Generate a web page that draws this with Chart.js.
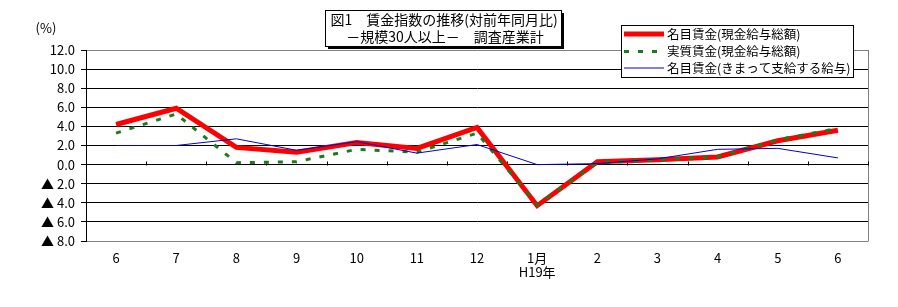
<!DOCTYPE html>
<html><head><meta charset="utf-8">
<script src="https://cdn.jsdelivr.net/npm/chart.js@4/dist/chart.umd.min.js"></script>
<style>html,body{margin:0;padding:0;background:#fff;}canvas{display:block;}</style>
</head><body>
<canvas id="c" width="898" height="307"></canvas>
<script>
const categories = ['6','7','8','9','10','11','12',['1月','H19年'],'2','3','4','5','6'];
const nominalTotal   = [4.2, 5.9, 1.8, 1.3, 2.3, 1.7, 3.9, -4.3, 0.3, 0.5, 0.8, 2.5, 3.6];
const realTotal      = [3.3, 5.3, 0.2, 0.3, 1.6, 1.3, 3.3, -4.2, 0.2, 0.5, 0.8, 2.6, 3.8];
const nominalRegular = [2.0, 2.0, 2.7, 1.5, 2.4, 1.2, 2.1, 0.0, 0.1, 0.6, 1.6, 1.7, 0.7];
const seriesNames = ['名目賃金(現金給与総額)','実質賃金(現金給与総額)','名目賃金(きまって支給する給与)'];
const titleLines = ['図1　賃金指数の推移(対前年同月比)','－規模30人以上－　調査産業計'];
const unitLabel = '(%)';
const yMin = -8, yMax = 12, yStep = 2;

const FONT = '"Noto Sans CJK JP", "Noto Sans", sans-serif';

const decor = {
  id: 'decor',
  beforeDatasetsDraw(chart) {
    const {ctx, chartArea: a, scales: {x, y}} = chart;
    ctx.save();
    ctx.strokeStyle = '#808080'; ctx.lineWidth = 1;
    ctx.beginPath(); ctx.moveTo(Math.round(a.right) + 0.5, a.top); ctx.lineTo(Math.round(a.right) + 0.5, a.bottom + 0.5); ctx.stroke();
    const y0 = Math.round(y.getPixelForValue(0)) + 0.5;
    ctx.strokeStyle = '#000';
    for (let i = 1; i <= categories.length; i++) {
      const px = i < categories.length
        ? (x.getPixelForValue(i - 1) + x.getPixelForValue(i)) / 2
        : a.right;
      const xx = Math.round(px) + 0.5;
      ctx.beginPath(); ctx.moveTo(xx, y0); ctx.lineTo(xx, y0 - 4); ctx.stroke();
    }
    ctx.restore();
  },
  afterDraw(chart) {
    const {ctx} = chart;
    ctx.save();
    ctx.fillStyle = '#000';
    ctx.font = '13px ' + FONT;
    ctx.textAlign = 'center'; ctx.textBaseline = 'middle';
    ctx.fillText(unitLabel, 46, 28);
    const bx = 325, by = 10, bw = 236, bh = 36;
    ctx.fillStyle = '#000';
    ctx.fillRect(bx + 3, by + 3, bw, bh);
    ctx.fillStyle = '#fff';
    ctx.fillRect(bx, by, bw, bh);
    ctx.strokeStyle = '#000'; ctx.lineWidth = 1;
    ctx.strokeRect(bx + 0.5, by + 0.5, bw, bh);
    ctx.fillStyle = '#000';
    ctx.font = '14px ' + FONT;
    ctx.fillText(titleLines[0], bx + bw / 2 + 1, by + 10);
    ctx.fillText(titleLines[1], bx + bw / 2 + 2, by + 27);
    const lx = 621, ly = 25, lw = 232, lh = 52;
    ctx.fillStyle = '#fff';
    ctx.fillRect(lx, ly, lw, lh);
    ctx.strokeStyle = '#000';
    ctx.strokeRect(lx + 0.5, ly + 0.5, lw, lh);
    const rows = [34, 51.5, 68];
    chart.data.datasets.forEach((ds, i) => {
      const yy = rows[i];
      ctx.save();
      ctx.strokeStyle = ds.borderColor;
      ctx.lineWidth = ds.borderWidth;
      ctx.setLineDash(ds.borderDash || []);
      ctx.beginPath(); ctx.moveTo(624, yy); ctx.lineTo(664, yy); ctx.stroke();
      ctx.restore();
      ctx.fillStyle = '#000';
      ctx.font = '12.5px ' + FONT;
      ctx.textAlign = 'left'; ctx.textBaseline = 'middle';
      ctx.fillText(ds.label, 667, yy);
    });
    ctx.restore();
  }
};

new Chart(document.getElementById('c'), {
  type: 'line',
  data: {
    labels: categories,
    datasets: [
      {label: seriesNames[0], data: nominalTotal, borderColor: '#ff0000', borderWidth: 5, order: 3},
      {label: seriesNames[1], data: realTotal, borderColor: '#1b7a1b', borderWidth: 3, borderDash: [5, 9], order: 2},
      {label: seriesNames[2], data: nominalRegular, borderColor: '#0000cc', borderWidth: 1, order: 1}
    ]
  },
  options: {
    responsive: false,
    devicePixelRatio: 1,
    animation: false,
    layout: {padding: {top: 50, left: 0, right: 30, bottom: 0}},
    elements: {point: {radius: 0, hoverRadius: 0}, line: {tension: 0, borderJoinStyle: 'miter', borderCapStyle: 'butt', fill: false}},
    plugins: {legend: {display: false}, tooltip: {enabled: false}, title: {display: false}},
    scales: {
      x: {
        offset: true,
        grid: {display: false, drawTicks: false},
        border: {display: false},
        ticks: {color: '#000', font: {family: FONT, size: 13, lineHeight: 1.1}, padding: 10, autoSkip: false, maxRotation: 0},
        afterFit(s) { s.height = 66; }
      },
      y: {
        min: yMin, max: yMax,
        grid: {
          color: (c) => (c.tick && (c.tick.value === yMax || c.tick.value === yMin)) ? '#808080' : '#000',
          tickColor: '#000', tickLength: 5, lineWidth: 1
        },
        border: {color: '#000'},
        ticks: {
          stepSize: yStep, color: '#000', padding: 6, autoSkip: false,
          font: {family: FONT, size: 13},
          callback: (v) => v < 0 ? '▲ ' + Math.abs(v).toFixed(1) : v.toFixed(1)
        },
        afterFit(s) { s.width = 86; }
      }
    }
  },
  plugins: [decor]
});
</script>
</body></html>
